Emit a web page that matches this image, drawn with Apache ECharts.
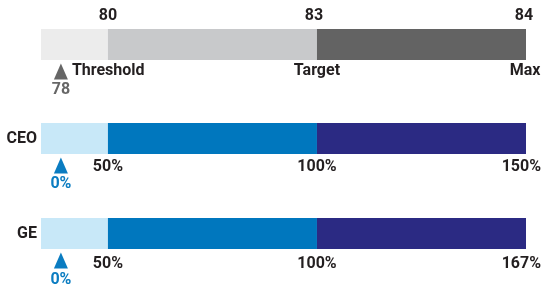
<!DOCTYPE html>
<html>
<head>
<meta charset="utf-8">
<style>
  html, body { margin: 0; padding: 0; background: #fff; }
  #chart { width: 542px; height: 287px; }
</style>
<script src="https://cdn.jsdelivr.net/npm/echarts@6/dist/echarts.min.js"></script>
</head>
<body>
<div id="chart"></div>
<script>
// rows of the chart, top to bottom
const rows = ['Performance', 'CEO', 'GE'];
// share of the bar taken by each band (threshold -> target -> max)
const segmentShare = [13.8, 43.1, 43.1];
// where the threshold pointer sits on the bar
const markerAt = 4.1;

const perfTopLabels = ['80', '83', '84'];
const perfBottomLabels = ['Threshold', 'Target', 'Max'];
const thresholdValue = '78';
const ceoPayout = ['0%', '50%', '100%', '150%'];
const gePayout = ['0%', '50%', '100%', '167%'];

const rowColors = [
  ['#ececec', '#c8c9cb', '#636363'],
  ['#c8e8f8', '#0077be', '#2b2a83'],
  ['#c8e8f8', '#0077be', '#2b2a83']
];

const FONT = 'Roboto, "Noto Sans", sans-serif';
const TEXT = '#231f20';
const GRAY = '#666666';
const BLUE = '#0a7cc1';

// cumulative ends of the bands
const breaks = [];
segmentShare.reduce((acc, v) => { breaks.push(acc + v); return acc + v; }, 0);

const gridTops = [29, 123, 218];

function txt(x, text, dy, opts) {
  opts = opts || {};
  return {
    value: [x, 0],
    label: {
      show: true,
      formatter: text,
      position: 'inside',
      align: opts.align || 'center',
      verticalAlign: 'middle',
      offset: [opts.dx || 0, dy],
      color: opts.color || TEXT,
      fontFamily: FONT,
      fontWeight: 'bold',
      fontSize: 16
    }
  };
}

const grid = [], xAxis = [], yAxis = [], series = [];

rows.forEach((row, i) => {
  grid.push({ left: 41, right: 16, top: gridTops[i], height: 31 });
  xAxis.push({ gridIndex: i, type: 'value', min: 0, max: 100, show: false });
  yAxis.push({
    gridIndex: i,
    type: 'category',
    data: [row],
    axisLine: { show: false },
    axisTick: { show: false },
    axisLabel: {
      show: i > 0,
      margin: 4,
      color: TEXT,
      fontFamily: FONT,
      fontWeight: 'bold',
      fontSize: 16
    }
  });

  segmentShare.forEach((v, k) => {
    series.push({
      type: 'bar',
      xAxisIndex: i,
      yAxisIndex: i,
      stack: 'row' + i,
      barWidth: 31,
      data: [v],
      itemStyle: { color: rowColors[i][k] },
      silent: true
    });
  });

  // threshold pointer
  series.push({
    type: 'scatter',
    xAxisIndex: i,
    yAxisIndex: i,
    symbol: 'triangle',
    symbolSize: [14, 16],
    symbolOffset: [0, 27],
    itemStyle: { color: i === 0 ? GRAY : BLUE, opacity: 1 },
    data: [[markerAt, 0]],
    silent: true,
    z: 5
  });

  let labels;
  if (i === 0) {
    labels = [
      txt(breaks[0], perfTopLabels[0], -29),
      txt(breaks[1], perfTopLabels[1], -29, { dx: -3 }),
      txt(breaks[2], perfTopLabels[2], -29, { dx: -2 }),
      txt(markerAt, perfBottomLabels[0], 26, { align: 'left', dx: 11 }),
      txt(markerAt, thresholdValue, 45, { color: GRAY }),
      txt(breaks[1], perfBottomLabels[1], 26),
      txt(breaks[2], perfBottomLabels[2], 26, { dx: -1 })
    ];
  } else {
    const p = i === 1 ? ceoPayout : gePayout;
    const dy = i === 1 ? 28.5 : 30;
    labels = [
      txt(markerAt, p[0], dy + 16.5, { color: BLUE }),
      txt(breaks[0], p[1], dy),
      txt(breaks[1], p[2], dy),
      txt(breaks[2], p[3], dy, { align: 'right', dx: 15 })
    ];
  }
  series.push({
    type: 'scatter',
    xAxisIndex: i,
    yAxisIndex: i,
    symbolSize: 0,
    itemStyle: { opacity: 1 },
    data: labels,
    silent: true,
    z: 6
  });
});

const chart = echarts.init(document.getElementById('chart'));
chart.setOption({
  animation: false,
  grid,
  xAxis,
  yAxis,
  series
});
new ResizeObserver(() => chart.resize()).observe(document.getElementById('chart'));
</script>
</body>
</html>
